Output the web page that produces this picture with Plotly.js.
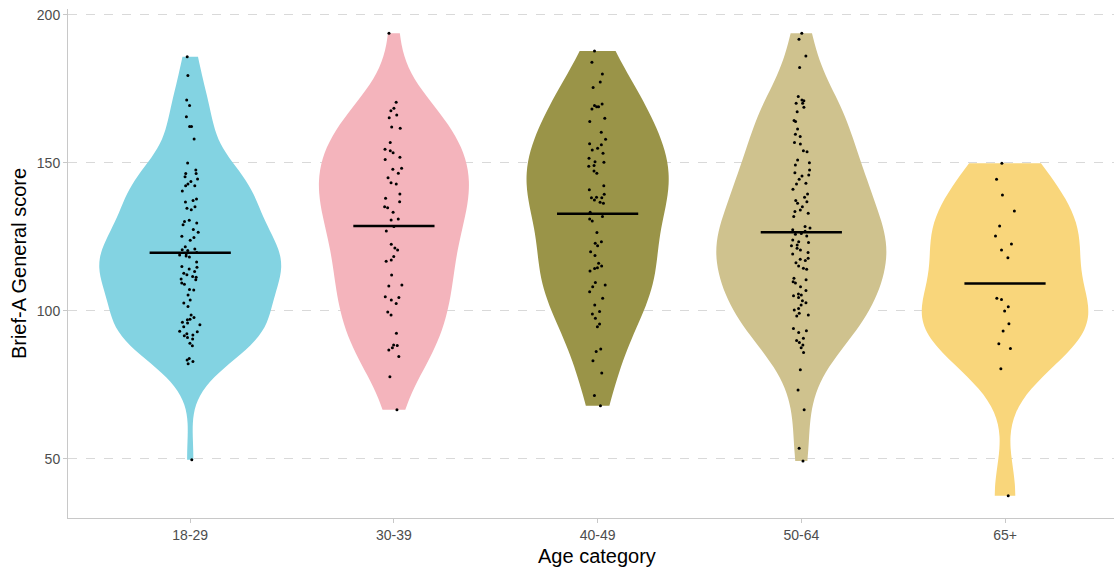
<!DOCTYPE html>
<html><head><meta charset="utf-8">
<script src="https://cdn.plot.ly/plotly-3.0.1.min.js"></script>
<style>html,body{margin:0;padding:0;background:#fff;} #chart{width:1114px;height:569px;}</style>
</head><body><div id="chart"></div>
<script>
const categories = ['18-29', '30-39', '40-49', '50-64', '65+'];
const fillColors = ['#83D3E2', '#F4B4BC', '#9A9448', '#CFC28E', '#F9D67B'];

const scores_18_29 = [185.9,179.5,171.3,169.4,165.6,162.3,162.3,158.1,150.0,147.6,146.4,146.4,145.3,144.6,143.7,142.9,142.3,142.3,140.5,137.8,137.3,136.8,135.2,134.7,134.2,130.6,130.2,129.7,129.1,127.5,126.6,125.2,124.8,123.9,121.7,120.9,120.7,120.4,119.7,119.3,118.9,118.6,118.2,116.5,115.0,114.8,114.2,113.3,112.7,112.2,111.6,111.4,110.8,110.5,109.4,109.0,107.2,107.1,105.4,103.7,102.7,101.5,98.6,97.8,97.2,97.0,96.2,95.9,95.3,94.7,93.1,93.0,92.3,91.9,91.6,91.0,90.5,89.1,88.2,83.9,83.4,82.9,82.2,49.7];
const scores_30_39 = [193.8,170.5,168.5,167.6,166.2,165.3,162.1,161.7,156.9,154.6,154.1,153.4,151.9,151.2,148.2,147.9,146.5,145.0,143.3,142.9,139.5,138.1,136.9,135.2,134.9,133.3,131.1,130.7,128.5,127.0,122.5,121.3,120.6,118.4,117.2,116.8,112.1,108.8,108.4,104.8,104.5,103.7,102.5,99.6,98.6,92.5,88.5,88.3,87.6,86.8,84.6,77.8,66.6];
const scores_40_49 = [187.8,184.0,180.0,177.3,175.5,169.9,169.4,169.0,169.0,168.2,165.1,164.0,160.4,158.0,156.5,156.1,155.0,154.4,153.3,151.6,150.4,150.2,149.1,148.9,147.3,146.5,142.3,140.9,139.4,138.4,138.2,138.2,137.5,136.7,136.4,133.3,131.9,131.1,130.4,126.5,123.4,122.9,122.0,120.0,118.7,116.1,115.2,114.6,114.3,113.5,109.6,108.8,108.2,106.5,104.3,102.0,99.8,99.0,97.5,95.6,94.7,87.1,86.3,83.2,79.0,71.4,68.0];
const scores_50_64 = [193.8,191.8,186.1,182.2,172.4,171.3,171.0,170.2,170.2,168.8,167.3,164.3,164.0,161.5,159.7,158.9,156.9,156.4,154.1,153.8,151.0,150.1,149.3,147.6,146.7,145.9,145.6,144.5,143.1,142.9,141.1,139.5,138.4,137.3,136.9,136.4,135.2,134.1,133.6,133.0,131.9,128.5,128.0,127.4,126.9,126.2,125.9,125.3,124.0,123.4,123.1,122.3,122.0,121.2,120.6,119.7,119.2,117.8,117.5,117.0,116.3,115.2,114.4,114.1,111.0,110.5,109.9,109.4,108.2,106.9,105.7,105.4,105.1,104.5,103.4,102.8,102.0,100.8,100.3,99.2,98.6,98.3,94.1,93.3,92.7,90.8,90.0,89.3,88.5,87.6,86.0,80.1,73.3,66.6,53.6,49.3];
const scores_65plus = [149.9,144.5,139.2,133.8,128.7,125.3,122.6,120.6,118.0,104.3,103.9,101.4,100.0,95.7,93.2,88.9,87.3,80.5,37.6];

const groups = [scores_18_29, scores_30_39, scores_40_49, scores_50_64, scores_65plus];

// Style: maximum violin widths (category units), as drawn in the reference
const violinWidths = [0.893, 0.736, 0.697, 0.835, 0.815];

// R's bw.nrd0 bandwidth
function quantile(sorted, p) {
  const h = (sorted.length - 1) * p, lo = Math.floor(h), hi = Math.ceil(h);
  return sorted[lo] + (sorted[hi] - sorted[lo]) * (h - lo);
}
function bwNrd0(v) {
  const n = v.length, m = v.reduce((a, b) => a + b, 0) / n;
  const sd = Math.sqrt(v.reduce((a, b) => a + (b - m) * (b - m), 0) / (n - 1));
  const s = v.slice().sort((a, b) => a - b);
  const iqr = quantile(s, 0.75) - quantile(s, 0.25);
  return 0.9 * Math.min(sd, iqr / 1.34) * Math.pow(n, -0.2);
}
const bws = groups.map(bwNrd0);
const means = groups.map(g => g.reduce((a, b) => a + b, 0) / g.length);

const traces = groups.map((g, i) => ({
  type: 'violin',
  x: g.map(() => categories[i]),
  y: g,
  name: categories[i],
  fillcolor: fillColors[i],
  line: {width: 0, color: fillColors[i]},
  opacity: 1,
  bandwidth: bws[i],
  spanmode: 'hard',
  scalemode: 'width',
  width: violinWidths[i],
  points: 'all',
  pointpos: 0,
  jitter: 0.11 / violinWidths[i],
  marker: {color: '#000000', size: 3, line: {width: 0}},
  box: {visible: false},
  meanline: {visible: false},
  hoverinfo: 'y',
  showlegend: false
}));

traces.push({
  type: 'scatter',
  mode: 'markers',
  x: categories,
  y: means,
  marker: {symbol: 'line-ew', size: 58, color: '#000000', line: {width: 2.5, color: '#000000'}},
  hoverinfo: 'y',
  showlegend: false
});

const layout = {
  width: 1114, height: 569,
  margin: {l: 68, r: 0, t: 9, b: 51},
  paper_bgcolor: '#ffffff', plot_bgcolor: '#ffffff',
  violinmode: 'overlay',
  font: {family: 'Liberation Sans, Arial, sans-serif'},
  xaxis: {
    type: 'category', categoryorder: 'array', categoryarray: categories,
    range: [-0.6, 4.535],
    showgrid: false, zeroline: false,
    showline: true, linecolor: '#c8c8c8', linewidth: 1,
    ticks: 'outside', ticklen: 4, tickcolor: '#c8c8c8',
    tickfont: {size: 14, color: '#4d4d4d'}
  },
  yaxis: {
    range: [30.05, 202.0],
    tickvals: [50, 100, 150, 200],
    showgrid: true, gridcolor: '#d9d9d9', griddash: 'dash', gridwidth: 1,
    zeroline: false,
    showline: true, linecolor: '#c8c8c8', linewidth: 1,
    ticks: 'outside', ticklen: 4, tickcolor: '#c8c8c8',
    tickfont: {size: 14, color: '#4d4d4d'},
    title: {text: 'Brief-A General score', font: {size: 20, color: '#000000'}, standoff: 4}
  },
  annotations: [{
    text: 'Age category', xref: 'paper', yref: 'paper',
    x: 0.5057, y: -0.075, xanchor: 'center', yanchor: 'middle',
    showarrow: false, font: {size: 20, color: '#000000'}
  }]
};

Plotly.newPlot('chart', traces, layout, {displayModeBar: false, staticPlot: true});
</script>
</body></html>
